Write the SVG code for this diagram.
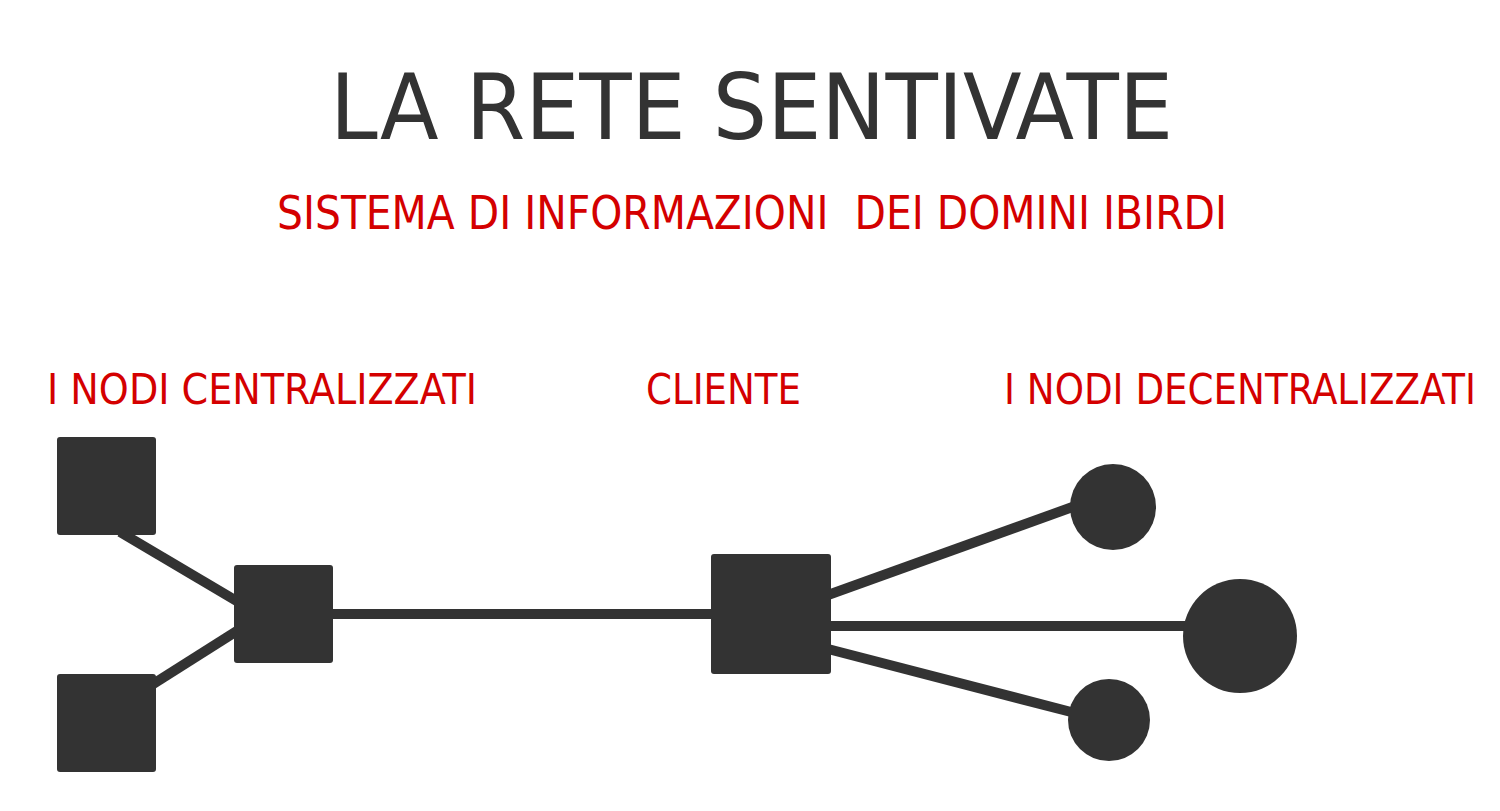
<svg xmlns="http://www.w3.org/2000/svg" width="1500" height="811" viewBox="0 0 1500 811">
<style>
.title{font-family:"DejaVu Sans Condensed","DejaVu Sans","Liberation Sans",sans-serif;font-stretch:condensed;fill:#333333;font-size:90px}
.red{font-family:"DejaVu Sans Condensed","DejaVu Sans","Liberation Sans",sans-serif;font-stretch:condensed;fill:#d40000}
.sq{fill:#333333}
.nd{fill:#333333}
.ln{stroke:#333333;stroke-width:10;fill:none}
</style>
<rect width="1500" height="811" fill="#ffffff"/>
<g id="title">
<text class="title" x="330" y="139" textLength="843" lengthAdjust="spacingAndGlyphs">LA RETE SENTIVATE</text>
</g>
<g id="subtitle">
<text class="red" x="277" y="229" font-size="46" textLength="950" lengthAdjust="spacingAndGlyphs" xml:space="preserve">SISTEMA DI INFORMAZIONI  DEI DOMINI IBIRDI</text>
</g>
<g id="labels">
<text class="red" x="47" y="404" font-size="43" textLength="430" lengthAdjust="spacingAndGlyphs">I NODI CENTRALIZZATI</text>
<text class="red" x="646" y="404" font-size="43" textLength="155" lengthAdjust="spacingAndGlyphs">CLIENTE</text>
<text class="red" x="1004" y="404" font-size="42" textLength="472" lengthAdjust="spacingAndGlyphs">I NODI DECENTRALIZZATI</text>
</g>
<g id="connectors">
<line class="ln" x1="120" y1="532" x2="240" y2="603"/>
<line class="ln" x1="150" y1="686" x2="240" y2="629"/>
<line class="ln" x1="330" y1="614" x2="714" y2="614"/>
<line class="ln" x1="828" y1="595" x2="1078" y2="505"/>
<line class="ln" x1="828" y1="626" x2="1195" y2="626"/>
<line class="ln" x1="828" y1="649" x2="1075" y2="713"/>
</g>
<g id="node-c1"><rect class="sq" x="57" y="437" width="99" height="98" rx="3"/></g>
<g id="node-c2"><rect class="sq" x="57" y="674" width="99" height="98" rx="3"/></g>
<g id="node-hub"><rect class="sq" x="234" y="565" width="99" height="98" rx="3"/></g>
<g id="node-cliente"><rect class="sq" x="711" y="554" width="120" height="120" rx="3"/></g>
<g id="node-d1"><circle class="nd" cx="1113" cy="507" r="43"/></g>
<g id="node-d2"><circle class="nd" cx="1240" cy="636" r="57"/></g>
<g id="node-d3"><circle class="nd" cx="1109" cy="720" r="41"/></g>
</svg>
